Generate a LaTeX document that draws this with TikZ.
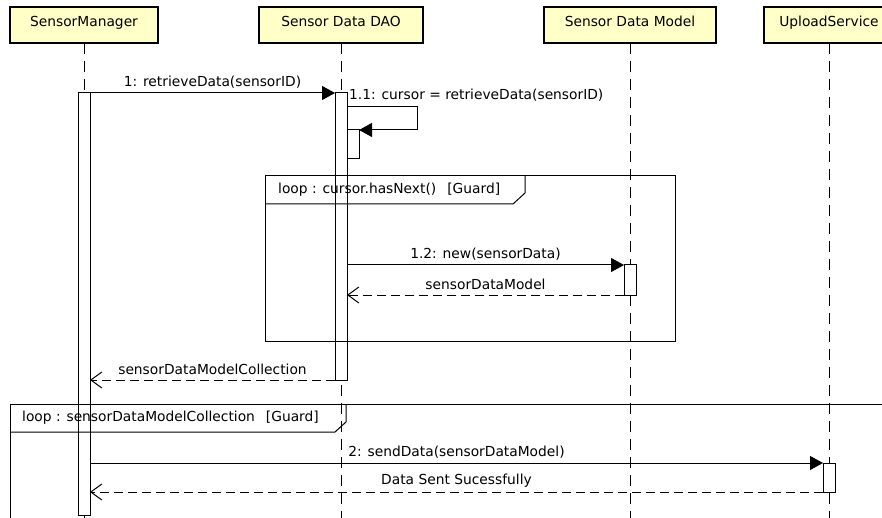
\documentclass[tikz,border=0pt]{standalone}
\usepackage{fontspec}
\setmainfont{DejaVu Sans}
\usetikzlibrary{arrows.meta}
\definecolor{headfill}{HTML}{FFFFC8}
\begin{document}
\begin{tikzpicture}[x=1pt,y=-1pt,
  every node/.style={font=\fontsize{13.8}{16}\selectfont},
  actor/.style={draw,line width=2pt,fill=headfill,minimum height=36pt,inner sep=0pt,outer sep=0pt,
    text height=10pt,text depth=7pt},
  lifeline/.style={line width=1pt,dash pattern=on 11pt off 7pt},
  act/.style={draw,fill=white,line width=1pt,minimum width=12pt,inner sep=0pt,outer sep=0pt,anchor=north},
  call/.style={line width=1pt,-{Triangle[length=13pt,width=14pt]}},
  reply/.style={line width=1pt,dash pattern=on 9pt off 5pt,-{Straight Barb[length=11pt,width=16pt]}},
  frame/.style={line width=1pt}]
  \clip (0,0) rectangle (882,518);
  \fill[white] (0,0) rectangle (882,518);
  % participants
  \node[actor,minimum width=148pt] (mgr) at (84,25) {SensorManager};
  \node[actor,minimum width=164pt] (dao) at (341,25) {Sensor Data DAO};
  \node[actor,minimum width=172pt] (model) at (630,25) {Sensor Data Model};
  \node[actor,minimum width=130pt] (upload) at (829,25) {UploadService};
  \foreach \p in {mgr,dao,model,upload}
    \draw[lifeline] (\p.south) -- (\p.south |- 0,530);
  % activations
  \node[act,minimum height=422pt] (mgrAct) at (84,93) {};
  \node[act,minimum height=287pt] (daoAct) at (341,93) {};
  \node[act,minimum height=29pt] (daoSelf) at (353,130) {};
  \node[act,minimum height=30pt] (modelAct) at (630,265) {};
  \node[act,minimum height=29pt] (uploadAct) at (829,463) {};
  % 1: retrieve
  \draw[call] (mgrAct.north east) -- node[above=1pt] {1: retrieveData(sensorID)} (daoAct.north west);
  \coordinate (selfOut) at (347,107);
  \draw[call] (selfOut) -- ++(70,0) |- (daoSelf.north east);
  \node[anchor=west,inner sep=1pt] (selfLbl) at (348,95) {1.1: cursor = retrieveData(sensorID)};
  % loop over cursor
  \draw[frame] (265,176) rectangle (675,341);
  \draw[frame] (265,204) -- (513,204) -- (525,193) -- (525,176);
  \node[anchor=west,inner sep=0pt] (loopA) at (278,190) {loop : cursor.hasNext()\hspace{11pt}[Guard]};
  \draw[call] (daoAct.east |- modelAct.north) -- node[above=1pt] {1.2: new(sensorData)} (modelAct.north west);
  \draw[reply] (modelAct.south west) -- node[above=1pt] {sensorDataModel} (daoAct.east |- modelAct.south);
  \draw[reply] (daoAct.south west) -- node[above=1pt] {sensorDataModelCollection} (mgrAct.east |- daoAct.south);
  % loop over collection
  \draw[frame] (10,530) -- (10,404) -- (890,404);
  \draw[frame] (10,432) -- (335,432) -- (346,422) -- (346,404);
  \node[anchor=west,inner sep=0pt] (loopB) at (22,418) {loop : sensorDataModelCollection\hspace{11pt}[Guard]};
  \draw[call] (mgrAct.east |- uploadAct.north) -- node[above=1pt] {2: sendData(sensorDataModel)} (uploadAct.north west);
  \draw[reply] (uploadAct.south west) -- node[above=1pt] {Data Sent Sucessfully} (mgrAct.east |- uploadAct.south);
\end{tikzpicture}
\end{document}
